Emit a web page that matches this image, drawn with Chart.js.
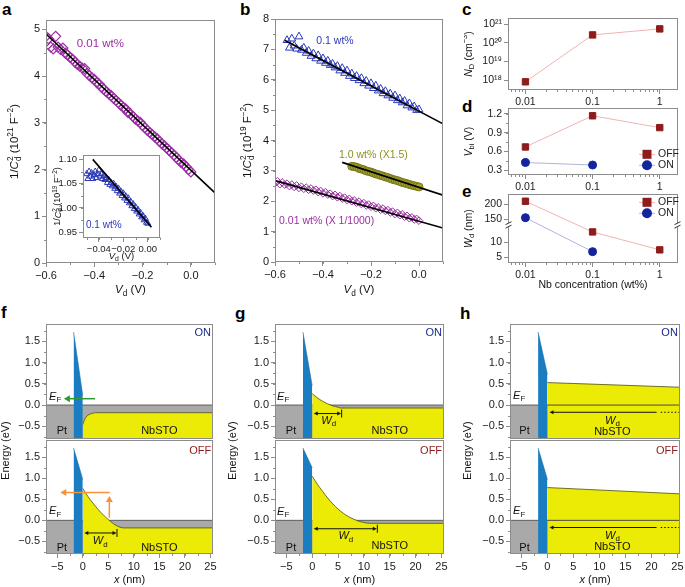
<!DOCTYPE html>
<html>
<head>
<meta charset="utf-8">
<title>C-V data and band diagrams</title>
<script src="https://cdn.jsdelivr.net/npm/chart.js@4.4.1/dist/chart.umd.min.js"></script>
<style>
  html, body { margin: 0; padding: 0; background: #fff; }
  #fig { position: relative; width: 685px; height: 587px; overflow: hidden; background: #fff;
         font-family: "Liberation Sans", Arial, Helvetica, sans-serif; }
  .box { position: absolute; }
  .box canvas { display: block; }
  .tag { position: absolute; font-weight: bold; font-size: 17px; line-height: 17px; color: #000; }
</style>
</head>
<body>
<div id="fig">
  <div class="tag" style="left:2px;top:1px">a</div>
  <div class="tag" style="left:240px;top:1px">b</div>
  <div class="tag" style="left:462px;top:1px">c</div>
  <div class="tag" style="left:462px;top:98px">d</div>
  <div class="tag" style="left:462px;top:183px">e</div>
  <div class="tag" style="left:1px;top:304px">f</div>
  <div class="tag" style="left:235px;top:305px">g</div>
  <div class="tag" style="left:460px;top:305px">h</div>
</div>
<script>
const FONT = '"Liberation Sans", Arial, Helvetica, sans-serif';
const AX = '#8c8c8c';
const PURPLE = '#9a2ea2', BLUE = '#2b38b6', OLIVE = '#8f8f1c';
const RED = '#8e1c1c', PINK = '#efb3b3', NAVY = '#1424a0', LBLUE = '#aeb4dc';
const YELLOW = '#ebeb05', GREY = '#a9a9a9', BARRIER = '#1b7dc1';
const ON_COL = '#1c2a8c', OFF_COL = '#8c1c1c';
Chart.defaults.font.family = FONT;
Chart.defaults.color = '#1a1a1a';

// ---------- a: 0.01 wt% ----------
const aVd = [-0.60,-0.59,-0.58,-0.57,-0.56,-0.55,-0.54,-0.53,-0.52,-0.51,-0.50,-0.49,-0.48,-0.47,-0.46,-0.45,-0.44,-0.43,-0.42,-0.41,
  -0.40,-0.39,-0.38,-0.37,-0.36,-0.35,-0.34,-0.33,-0.32,-0.31,-0.30,-0.29,-0.28,-0.27,-0.26,-0.25,-0.24,-0.23,-0.22,-0.21,
  -0.20,-0.19,-0.18,-0.17,-0.16,-0.15,-0.14,-0.13,-0.12,-0.11,-0.10,-0.09,-0.08,-0.07,-0.06,-0.05,-0.04,-0.03,-0.02,-0.01,0.00];
const aInvC2 = [4.85,4.80,4.62,4.58,4.85,4.62,4.57,4.60,4.49,4.45,4.40,4.36,4.30,4.25,4.21,4.17,4.16,4.06,4.01,3.96,
  3.93,3.86,3.83,3.76,3.72,3.66,3.62,3.58,3.52,3.48,3.43,3.38,3.33,3.30,3.22,3.19,3.14,3.08,3.04,3.01,
  2.94,2.89,2.84,2.79,2.75,2.70,2.66,2.60,2.55,2.51,2.46,2.41,2.36,2.31,2.26,2.20,2.15,2.12,2.06,2.00,1.95];
const aFitVd = [-0.60, 0.10];
const aFitY = [4.90, 1.50];
const aXTicks = [-0.6, -0.4, -0.2, 0.0];
const aYTicks = [0, 1, 2, 3, 4, 5];

// inset: 0.1 wt%
const insVd = [-0.050,-0.049,-0.048,-0.047,-0.046,-0.045,-0.044,-0.043,-0.042,-0.041,-0.040,-0.039,-0.038,-0.037,-0.036,-0.035,-0.034,
  -0.033,-0.032,-0.031,-0.030,-0.029,-0.028,-0.027,-0.026,-0.025,-0.024,-0.023,-0.022,-0.021,-0.020,-0.019,-0.018,-0.017,-0.016,
  -0.015,-0.014,-0.013,-0.012,-0.011,-0.010,-0.009,-0.008,-0.007,-0.006,-0.005,-0.004,-0.003,-0.002,-0.001,0.000];
const insInvC2 = [1.070,1.060,1.075,1.065,1.072,1.060,1.068,1.075,1.062,1.070,1.078,1.065,1.070,1.060,1.066,1.058,1.062,
  1.052,1.058,1.048,1.052,1.045,1.050,1.040,1.044,1.035,1.040,1.030,1.034,1.025,1.030,1.020,1.024,1.015,1.020,
  1.010,1.013,1.004,1.008,0.998,1.002,0.993,0.996,0.987,0.990,0.981,0.984,0.975,0.978,0.970,0.968];
const insFitVd = [-0.045, 0.003];
const insFitY = [1.100, 0.960];
const insXTicks = [-0.04, -0.02, 0.00];
const insYTicks = [0.95, 1.00, 1.05, 1.10];

// ---------- b ----------
const bVd01 = [-0.55,-0.54,-0.53,-0.52,-0.51,-0.50,-0.49,-0.48,-0.47,-0.46,-0.45,-0.44,-0.43,-0.42,-0.41,-0.40,-0.39,-0.38,-0.37,
  -0.36,-0.35,-0.34,-0.33,-0.32,-0.31,-0.30,-0.29,-0.28,-0.27,-0.26,-0.25,-0.24,-0.23,-0.22,-0.21,-0.20,-0.19,-0.18,
  -0.17,-0.16,-0.15,-0.14,-0.13,-0.12,-0.11,-0.10,-0.09,-0.08,-0.07,-0.06,-0.05,-0.04,-0.03,-0.02,-0.01,0.00];
const bY01 = [7.30,7.05,7.35,7.12,7.02,7.42,6.98,7.05,6.88,6.95,6.78,6.86,6.70,6.80,6.62,6.70,6.55,6.62,6.48,
  6.52,6.40,6.45,6.30,6.38,6.22,6.30,6.12,6.20,6.05,6.12,5.98,6.05,5.88,5.96,5.80,5.88,5.72,5.80,
  5.64,5.70,5.55,5.62,5.48,5.54,5.40,5.48,5.32,5.38,5.25,5.30,5.15,5.22,5.08,5.12,5.00,5.02];
const bFit01X = [-0.56, 0.10], bFit01Y = [7.30, 4.55];

const bVd10 = [-0.28,-0.27,-0.26,-0.25,-0.24,-0.23,-0.22,-0.21,-0.20,-0.19,-0.18,-0.17,-0.16,-0.15,-0.14,
  -0.13,-0.12,-0.11,-0.10,-0.09,-0.08,-0.07,-0.06,-0.05,-0.04,-0.03,-0.02,-0.01,0.00];
const bY10 = [3.15,3.14,3.12,3.08,3.06,3.04,3.00,2.98,2.96,2.93,2.90,2.88,2.85,2.83,2.80,
  2.78,2.75,2.72,2.70,2.68,2.65,2.62,2.60,2.58,2.55,2.53,2.51,2.49,2.47];
const bFit10X = [-0.32, 0.10], bFit10Y = [3.28, 2.20];

const bVd001 = [-0.60,-0.59,-0.58,-0.57,-0.56,-0.55,-0.54,-0.53,-0.52,-0.51,-0.50,-0.49,-0.48,-0.47,-0.46,-0.45,-0.44,-0.43,-0.42,-0.41,
  -0.40,-0.39,-0.38,-0.37,-0.36,-0.35,-0.34,-0.33,-0.32,-0.31,-0.30,-0.29,-0.28,-0.27,-0.26,-0.25,-0.24,-0.23,-0.22,-0.21,
  -0.20,-0.19,-0.18,-0.17,-0.16,-0.15,-0.14,-0.13,-0.12,-0.11,-0.10,-0.09,-0.08,-0.07,-0.06,-0.05,-0.04,-0.03,-0.02,-0.01,0.00];
const bY001 = [2.60,2.66,2.56,2.62,2.55,2.58,2.50,2.55,2.47,2.52,2.44,2.48,2.41,2.45,2.38,2.42,2.35,2.38,2.30,2.34,
  2.26,2.30,2.22,2.25,2.17,2.21,2.13,2.17,2.09,2.12,2.04,2.08,2.00,2.03,1.95,1.99,1.91,1.94,1.86,1.89,
  1.82,1.85,1.77,1.80,1.72,1.76,1.68,1.71,1.63,1.66,1.58,1.62,1.54,1.57,1.49,1.52,1.44,1.47,1.40,1.42,1.36];
const bFit001X = [-0.60, 0.10], bFit001Y = [2.68, 1.12];
const bYTicks = [0, 1, 2, 3, 4, 5, 6, 7, 8];

// ---------- c, d, e ----------
const nbConc = [0.01, 0.1, 1];
const ndOff = [8e17, 2.7e20, 5.7e20];
const vbiOff = [0.67, 1.17, 0.98];
const vbiOn = [0.42, 0.38];
const wdOff = [210, 13.4, 7.4];
const wdOn = [155, 6.8];
const ndTicks = [1e18, 1e19, 1e20, 1e21];
const vbiTicks = [0.3, 0.6, 0.9, 1.2];
const wdTicks = [5, 10, 150, 200];

// ---------- f, g, h band diagrams ----------
const barrierX = [-1.8, 0];
const fermiX = [-7.2, 25.5], fermiY = [0, 0];
const fOnBar = [1.72, 0.22], fOffBar = [1.72, 0.97];
const gOnBar = [1.72, 0.45], gOffBar = [1.72, 1.25];
const hOnBar = [1.72, 0.72], hOffBar = [1.72, 0.97];
const fOnCbX = [0, 0.3, 0.6, 1, 1.5, 2, 2.5, 3, 25.5];
const fOnCbY = [-0.46, -0.36, -0.29, -0.24, -0.21, -0.19, -0.18, -0.18, -0.18];
const fOffCbX = [0, 1, 2, 3, 4, 5, 6, 7, 8, 25.5];
const fOffCbY = [0.76, 0.57, 0.41, 0.26, 0.13, 0.02, -0.08, -0.15, -0.18, -0.18];
const gOnCbX = [0, 1, 2, 3, 4, 5, 5.5, 25.5];
const gOnCbY = [0.27, 0.17, 0.09, 0.03, -0.02, -0.05, -0.07, -0.07];
const gOffCbX = [0, 1, 2, 3, 4, 5, 6, 7, 8, 9, 10, 11, 25.5];
const gOffCbY = [1.05, 0.86, 0.69, 0.53, 0.39, 0.27, 0.17, 0.09, 0.03, -0.02, -0.05, -0.07, -0.07];
const hOnCbX = [0, 25.5], hOnCbY = [0.53, 0.42];
const hOffCbX = [0, 25.5], hOffCbY = [0.78, 0.63];
const hEfX = [0, 25.5], hEfY = [0, 0];
const nmTicks = [-5, 0, 5, 10, 15, 20, 25];
const eVTicks = [-0.5, 0.0, 0.5, 1.0, 1.5];

// ---------- helpers ----------
const zip = (xs, ys) => xs.map((x, i) => ({x: x, y: ys[i]}));
const fmt = d => v => { if (Math.abs(v) < 1e-9) v = 0; return v.toFixed(d).replace('-', '\u2212'); };
const SUP = '\u2070\u00b9\u00b2\u00b3\u2074\u2075\u2076\u2077\u2078\u2079';
const pow10 = v => '10' + String(Math.round(Math.log10(v))).split('').map(c => SUP[+c]).join('');
const linMinor = (min, max, step) => { const o = []; for (let v = Math.ceil(min / step) * step; v <= max + 1e-9; v += step) o.push(v); return o; };
const logMinor = (min, max) => { const o = []; for (let e = Math.floor(Math.log10(min)); e <= Math.ceil(Math.log10(max)); e++) for (let k = 2; k <= 9; k++) { const v = k * Math.pow(10, e); if (v > min && v < max) o.push(v); } return o; };

// break on the W_d axis: lower part linear, upper part compressed
const brLo = 15.67, brHi = 130, brK = 0.1;
const T = v => v <= brLo ? v : brLo + (v - brHi) * brK;
const invT = t => t <= brLo ? t : brHi + (t - brLo) / brK;

function parseRich(s) {
  const out = []; let i = 0, it = false, buf = '';
  const push = (t, m) => { if (t) out.push({t: t, it: it, m: m}); };
  while (i < s.length) {
    const ch = s[i];
    if (ch === '*') { push(buf, 0); buf = ''; it = !it; i++; continue; }
    if ((ch === '_' || ch === '^') && s[i + 1] === '{') {
      push(buf, 0); buf = '';
      const j = s.indexOf('}', i);
      push(s.slice(i + 2, j), ch === '_' ? 1 : 2);
      i = j + 1; continue;
    }
    buf += ch; i++;
  }
  push(buf, 0);
  return out;
}

function rich(ctx, s, x, y, o) {
  const size = o.size || 11, segs = parseRich(s);
  const fontOf = g => (g.it ? 'italic ' : '') + (g.m ? size * 0.72 : size) + 'px ' + FONT;
  ctx.save();
  ctx.translate(x, y);
  if (o.rot) ctx.rotate(o.rot);
  ctx.textBaseline = 'middle';
  ctx.textAlign = 'left';
  let cx = 0, prev = null;
  segs.forEach(g => {
    ctx.font = fontOf(g);
    const w = ctx.measureText(g.t).width;
    if (g.m === 2 && prev && prev.m === 1) { g.sx = prev.sx; cx = Math.max(cx, g.sx + w); }
    else { g.sx = cx; cx += w; }
    prev = g;
  });
  const off = o.align === 'left' ? 0 : o.align === 'right' ? -cx : -cx / 2;
  ctx.fillStyle = o.color || '#111';
  segs.forEach(g => {
    ctx.font = fontOf(g);
    const dy = g.m === 1 ? size * 0.3 : g.m === 2 ? -size * 0.36 : 0;
    ctx.fillText(g.t, off + g.sx, dy);
  });
  ctx.restore();
}

function arrow(ctx, x1, y1, x2, y2, o) {
  const hl = o.hl || 5, hw = o.hw || 2.5, ang = Math.atan2(y2 - y1, x2 - x1);
  const c = Math.cos(ang), s = Math.sin(ang);
  ctx.save();
  ctx.strokeStyle = ctx.fillStyle = o.color || '#111';
  ctx.lineWidth = o.w || 1;
  if (o.dash) ctx.setLineDash(o.dash);
  ctx.beginPath();
  ctx.moveTo(x1 + (o.start ? hl * 0.8 * c : 0), y1 + (o.start ? hl * 0.8 * s : 0));
  ctx.lineTo(x2 - (o.end ? hl * 0.8 * c : 0), y2 - (o.end ? hl * 0.8 * s : 0));
  ctx.stroke();
  ctx.setLineDash([]);
  const head = (x, y, t) => {
    ctx.beginPath();
    ctx.moveTo(x, y);
    ctx.lineTo(x - hl * Math.cos(t) + hw * Math.sin(t), y - hl * Math.sin(t) - hw * Math.cos(t));
    ctx.lineTo(x - hl * Math.cos(t) - hw * Math.sin(t), y - hl * Math.sin(t) + hw * Math.cos(t));
    ctx.closePath(); ctx.fill();
  };
  if (o.end) head(x2, y2, ang);
  if (o.start) head(x1, y1, ang + Math.PI);
  if (o.bar) { ctx.lineWidth = 1; ctx.beginPath(); ctx.moveTo(x2 + 0.5, y2 - 4); ctx.lineTo(x2 + 0.5, y2 + 4); ctx.stroke(); }
  ctx.restore();
}

// frame, minor ticks, titles, legends, notes
Chart.register({
  id: 'decor',
  beforeDatasetsDraw(chart) {
    const N = chart.canvas._n; if (!N || !N.bg) return;
    const a = chart.chartArea, ctx = chart.ctx;
    ctx.save(); ctx.fillStyle = N.bg; ctx.fillRect(a.left, a.top, a.right - a.left, a.bottom - a.top); ctx.restore();
  },
  afterDatasetsDraw(chart) {
    const N = chart.canvas._n; if (!N) return;
    const ctx = chart.ctx, xs = chart.scales.x, ys = chart.scales.y;
    const px = v => xs.getPixelForValue(v), py = v => ys.getPixelForValue(v);
    (N.arrows || []).forEach(a => arrow(ctx, px(a.x1), py(a.y1), px(a.x2), py(a.y2), a));
    (N.texts || []).forEach(t => rich(ctx, t.s, px(t.x), py(t.y), t));
  },
  afterDraw(chart) {
    const N = chart.canvas._n; if (!N) return;
    const ctx = chart.ctx, a = chart.chartArea, xs = chart.scales.x, ys = chart.scales.y;
    const L = Math.round(a.left) + 0.5, Tp = Math.round(a.top) + 0.5, R = Math.round(a.right) - 0.5, B = Math.round(a.bottom) - 0.5;
    ctx.save();
    ctx.strokeStyle = AX; ctx.lineWidth = 1;
    ctx.strokeRect(L, Tp, R - L, B - Tp);
    ctx.beginPath();
    (N.minorX || []).forEach(v => { const p = Math.round(xs.getPixelForValue(v)) + 0.5; ctx.moveTo(p, B); ctx.lineTo(p, B + 2.5); });
    (N.minorY || []).forEach(v => { const p = Math.round(ys.getPixelForValue(v)) + 0.5; ctx.moveTo(L, p); ctx.lineTo(L - 2.5, p); });
    ctx.stroke();
    if (N.brk != null) {
      const p = ys.getPixelForValue(N.brk);
      [L, R].forEach(x => {
        ctx.fillStyle = '#fff'; ctx.fillRect(x - 3, p - 2, 6, 4);
        ctx.strokeStyle = '#333'; ctx.beginPath();
        ctx.moveTo(x - 3, p - 0.5); ctx.lineTo(x + 3, p - 3.5);
        ctx.moveTo(x - 3, p + 3); ctx.lineTo(x + 3, p);
        ctx.stroke();
      });
    }
    (N.legend || []).forEach(r => {
      const x = a.right - r.dx, y = a.top + r.dy;
      ctx.strokeStyle = r.line; ctx.lineWidth = 1;
      ctx.beginPath(); ctx.moveTo(x - 8, y); ctx.lineTo(x + 8, y); ctx.stroke();
      ctx.fillStyle = r.color;
      if (r.style === 'rect') ctx.fillRect(x - 4.5, y - 4.5, 9, 9);
      else { ctx.beginPath(); ctx.arc(x, y, 5, 0, 2 * Math.PI); ctx.fill(); }
      rich(ctx, r.label, x + 11, y, {align: 'left', size: 10.5, color: '#222'});
    });
    if (N.xt) rich(ctx, N.xt.s, (a.left + a.right) / 2 + (N.xt.dx || 0), a.bottom + N.xt.dy, {size: N.xt.size || 11});
    if (N.yt) rich(ctx, N.yt.s, a.left - N.yt.dx, N.yt.cy != null ? a.top + N.yt.cy : (a.top + a.bottom) / 2,
                   {size: N.yt.size || 11, rot: -Math.PI / 2});
    ctx.restore();
  }
});

// axis with an explicit list of tick values
function sc(type, min, max, at, o) {
  o = o || {};
  return {
    type: type, min: min, max: max, bounds: 'data',
    grid: {display: o.tickMarks !== false, drawOnChartArea: false, drawTicks: true, tickLength: 4, color: AX},
    border: {display: false},
    ticks: {display: o.labels !== false, color: '#1a1a1a', padding: o.pad != null ? o.pad : 2,
            font: {size: o.size || 11, family: FONT}, autoSkip: false, maxRotation: 0, minRotation: 0,
            callback: o.fmt || (v => String(v))},
    afterBuildTicks: ax => { ax.ticks = at.map(v => ({value: v})); }
  };
}

function mk(plot, pad, cfg, notes) {
  const W = plot.w + pad.l + pad.r, H = plot.h + pad.t + pad.b;
  const div = document.createElement('div');
  div.className = 'box';
  div.style.left = (plot.x - pad.l) + 'px';
  div.style.top = (plot.y - pad.t) + 'px';
  div.style.width = W + 'px';
  div.style.height = H + 'px';
  const cv = document.createElement('canvas');
  cv.width = W; cv.height = H;
  cv.style.width = W + 'px'; cv.style.height = H + 'px';
  cv._n = notes;
  div.appendChild(cv);
  document.getElementById('fig').appendChild(div);
  const op = cfg.options;
  op.responsive = false;
  op.animation = false;
  op.devicePixelRatio = 1;
  op.layout = {padding: {left: 0, top: pad.t, right: pad.r, bottom: 0}};
  op.plugins = {legend: {display: false}, tooltip: {enabled: false}};
  op.scales.x.afterFit = s => { s.height = pad.b; };
  op.scales.y.afterFit = s => { s.width = pad.l; };
  return new Chart(cv, cfg);
}

const markers = (data, style, r, color, fill, bw) => ({
  data: data, showLine: false, pointStyle: style, pointRadius: r, pointBorderWidth: bw || 1,
  pointBorderColor: color, pointBackgroundColor: fill || 'rgba(0,0,0,0)', order: 2
});
const fitLine = data => ({data: data, showLine: true, pointRadius: 0, borderColor: '#000', borderWidth: 1.6, order: 1});

// ---------- panel a ----------
mk({x: 46, y: 20, w: 169, h: 243}, {l: 46, t: 10, r: 14, b: 40}, {
  type: 'scatter',
  data: {datasets: [fitLine(zip(aFitVd, aFitY)), markers(zip(aVd, aInvC2), 'rectRot', 5, PURPLE, null, 1.2)]},
  options: {scales: {x: sc('linear', -0.6, 0.1, aXTicks, {fmt: fmt(1)}), y: sc('linear', 0, 5.2, aYTicks, {fmt: fmt(0)})}}
}, {
  minorX: linMinor(-0.6, 0.1, 0.1), minorY: linMinor(0, 5.2, 0.5),
  texts: [{s: '0.01 wt%', x: -0.375, y: 4.70, color: PURPLE, size: 11.5}],
  xt: {s: '*V*_{d} (V)', dy: 27, size: 11.5}, yt: {s: '1/*C*_{d}^{2} (10^{21} F^{\u22122})', dx: 31, size: 11.5}
});

// inset of a
mk({x: 83, y: 155, w: 77, h: 83}, {l: 34, t: 8, r: 10, b: 26}, {
  type: 'scatter',
  data: {datasets: [fitLine(zip(insFitVd, insFitY)), markers(zip(insVd, insInvC2), 'triangle', 3.5, BLUE)]},
  options: {scales: {x: sc('linear', -0.053, 0.010, insXTicks, {fmt: fmt(2), size: 9.5}),
                     y: sc('linear', 0.938, 1.109, insYTicks, {fmt: fmt(2), size: 9.5})}}
}, {
  bg: '#fff', minorX: linMinor(-0.053, 0.010, 0.01), minorY: linMinor(0.938, 1.109, 0.025),
  texts: [{s: '0.1 wt%', x: -0.036, y: 0.965, color: BLUE, size: 10}],
  xt: {s: '*V*_{d} (V)', dy: 18, size: 9.5}, yt: {s: '1/*C*_{d}^{2} (10^{19} F^{\u22122})', dx: 25, size: 9}
});

// ---------- panel b ----------
mk({x: 275, y: 19, w: 168, h: 243}, {l: 40, t: 10, r: 14, b: 40}, {
  type: 'scatter',
  data: {datasets: [
    fitLine(zip(bFit01X, bFit01Y)), fitLine(zip(bFit10X, bFit10Y)), fitLine(zip(bFit001X, bFit001Y)),
    markers(zip(bVd01, bY01), 'triangle', 4.5, BLUE),
    markers(zip(bVd10, bY10), 'circle', 4, '#77771a', '#a3a32a'),
    markers(zip(bVd001, bY001), 'rectRot', 3.8, PURPLE)
  ]},
  options: {scales: {x: sc('linear', -0.6, 0.1, aXTicks, {fmt: fmt(1)}), y: sc('linear', 0, 8, bYTicks, {fmt: fmt(0)})}}
}, {
  minorX: linMinor(-0.6, 0.1, 0.1), minorY: linMinor(0, 8, 0.5),
  texts: [
    {s: '0.1 wt%', x: -0.35, y: 7.28, color: BLUE, size: 10.5},
    {s: '1.0 wt% (X1.5)', x: -0.19, y: 3.53, color: OLIVE, size: 10.5},
    {s: '0.01 wt% (X 1/1000)', x: -0.385, y: 1.34, color: PURPLE, size: 10.5}
  ],
  xt: {s: '*V*_{d} (V)', dy: 28, size: 11.5}, yt: {s: '1/*C*_{d}^{2} (10^{19} F^{\u22122})', dx: 27, size: 11.5}
});

// ---------- panels c, d, e ----------
const concAxis = () => sc('logarithmic', 0.0055, 1.87, nbConc, {size: 10.5});
const offSeries = ys => ({data: zip(nbConc, ys), borderColor: PINK, borderWidth: 1, pointStyle: 'rect', pointRadius: 4.5,
                          pointBackgroundColor: RED, pointBorderColor: RED, order: 2});
const onSeries = ys => ({data: zip(nbConc.slice(0, ys.length), ys), borderColor: LBLUE, borderWidth: 1, pointStyle: 'circle',
                         pointRadius: 4, pointBackgroundColor: NAVY, pointBorderColor: NAVY, order: 1});

mk({x: 508, y: 18, w: 170, h: 72}, {l: 44, t: 10, r: 8, b: 18}, {
  type: 'line',
  data: {datasets: [offSeries(ndOff)]},
  options: {scales: {x: concAxis(), y: sc('logarithmic', 2.9e17, 2.2e21, ndTicks, {fmt: pow10, size: 10.5})}}
}, {minorX: logMinor(0.0055, 1.87), yt: {s: '*N*_{D} (cm^{\u22123})', dx: 39, size: 10.5}});

mk({x: 508, y: 108, w: 170, h: 67}, {l: 44, t: 8, r: 8, b: 18}, {
  type: 'line',
  data: {datasets: [onSeries(vbiOn), offSeries(vbiOff)]},
  options: {scales: {x: concAxis(), y: sc('linear', 0.22, 1.29, vbiTicks, {fmt: fmt(1), size: 10.5})}}
}, {
  minorX: logMinor(0.0055, 1.87), minorY: linMinor(0.22, 1.29, 0.15),
  legend: [{label: 'OFF', style: 'rect', color: RED, line: PINK, dx: 31, dy: 46},
           {label: 'ON', style: 'circle', color: NAVY, line: LBLUE, dx: 31, dy: 57}],
  yt: {s: '*V*_{bi} (V)', dx: 39, size: 10.5}
});

mk({x: 508, y: 194, w: 170, h: 69}, {l: 44, t: 8, r: 8, b: 32}, {
  type: 'line',
  data: {datasets: [onSeries(wdOn.map(T)), offSeries(wdOff.map(T))]},
  options: {scales: {x: concAxis(), y: sc('linear', 3, 26, wdTicks.map(T), {fmt: v => String(Math.round(invT(v))), size: 10.5})}}
}, {
  minorX: logMinor(0.0055, 1.87), brk: brLo,
  legend: [{label: 'OFF', style: 'rect', color: RED, line: PINK, dx: 31, dy: 8},
           {label: 'ON', style: 'circle', color: NAVY, line: LBLUE, dx: 31, dy: 19}],
  xt: {s: 'Nb concentration (wt%)', dy: 22, size: 10.5}, yt: {s: '*W*_{d} (nm)', dx: 39, size: 10.5}
});

// ---------- panels f, g, h ----------
function band(plot, on, cbX, cbY, barY, notes, efLine) {
  const ds = [
    {data: zip(barrierX, barY), borderColor: '#176aa5', backgroundColor: BARRIER, borderWidth: 0.6, fill: 'start', pointRadius: 0, order: 1},
    {data: zip(cbX, cbY), borderColor: '#4d4d18', backgroundColor: YELLOW, borderWidth: 0.8, fill: 'start', pointRadius: 0,
     cubicInterpolationMode: 'monotone', order: 3},
    {data: zip(fermiX, fermiY), borderColor: '#5e5e5e', backgroundColor: GREY, borderWidth: 1, fill: 'start', pointRadius: 0, order: 4}
  ];
  if (efLine) ds.push({data: zip(hEfX, hEfY), borderColor: '#4a4a4a', borderWidth: 1, pointRadius: 0, fill: false, order: 2});
  notes.minorY = linMinor(-0.8, 1.92, 0.25);
  if (!on) notes.minorX = linMinor(-7.2, 25.5, 2.5);
  const pad = on ? {l: 52, t: 8, r: 8, b: 60} : {l: 52, t: 8, r: 12, b: 36};
  return mk(plot, pad, {
    type: 'line',
    data: {datasets: ds},
    options: {scales: {
      x: sc('linear', -7.2, 25.5, nmTicks, {fmt: fmt(0), labels: !on, tickMarks: !on}),
      y: sc('linear', -0.8, 1.92, eVTicks, {fmt: fmt(1)})
    }}
  }, notes);
}
const EF = '*E*_{F}', WD = '*W*_{d}';
const tOn = {s: 'ON', x: 23.5, y: 1.70, color: ON_COL, align: 'center'};
const tOff = {s: 'OFF', x: 23.0, y: 1.65, color: OFF_COL, align: 'center'};
const wdArrow = (x2, y) => ({x1: 0.3, y1: y, x2: x2, y2: y, start: true, end: true, bar: true, hl: 4, hw: 2});

// f
band({x: 46, y: 323, w: 167, h: 116}, true, fOnCbX, fOnCbY, fOnBar, {
  texts: [tOn, {s: EF, x: -6.6, y: 0.19, align: 'left'}, {s: 'Pt', x: -4.1, y: -0.62}, {s: 'NbSTO', x: 15, y: -0.62}],
  arrows: [{x1: 2.4, y1: 0.15, x2: -3.7, y2: 0.15, color: '#2f9a2f', w: 1.5, end: true, hl: 6, hw: 3.5}],
  yt: {s: 'Energy (eV)', dx: 40, cy: 127}
});
band({x: 46, y: 439, w: 167, h: 115}, false, fOffCbX, fOffCbY, fOffBar, {
  texts: [tOff, {s: EF, x: -6.6, y: 0.22, align: 'left'}, {s: 'Pt', x: -4.1, y: -0.65}, {s: 'NbSTO', x: 15, y: -0.65},
          {s: WD, x: 3.4, y: -0.5}],
  arrows: [{x1: 5.3, y1: 0.66, x2: -4.4, y2: 0.66, color: '#f7923a', w: 1.5, end: true, hl: 6, hw: 3.5},
           {x1: 5.2, y1: 0.06, x2: 5.2, y2: 0.58, color: '#f7923a', w: 1.5, end: true, hl: 6, hw: 3.5},
           wdArrow(6.6, -0.3)],
  xt: {s: '*x* (nm)', dy: 26}
});

// g
band({x: 275, y: 323, w: 169, h: 116}, true, gOnCbX, gOnCbY, gOnBar, {
  texts: [tOn, {s: EF, x: -6.8, y: 0.2, align: 'left'}, {s: 'Pt', x: -4.1, y: -0.62}, {s: 'NbSTO', x: 15, y: -0.62},
          {s: WD, x: 3.2, y: -0.37}],
  arrows: [wdArrow(5.6, -0.2)],
  yt: {s: 'Energy (eV)', dx: 42, cy: 127}
});
band({x: 275, y: 439, w: 169, h: 115}, false, gOffCbX, gOffCbY, gOffBar, {
  texts: [tOff, {s: EF, x: -6.8, y: 0.2, align: 'left'}, {s: 'Pt', x: -4.1, y: -0.65}, {s: 'NbSTO', x: 15, y: -0.62},
          {s: WD, x: 6.5, y: -0.38}],
  arrows: [wdArrow(12.5, -0.2)],
  xt: {s: '*x* (nm)', dy: 26}
});

// h
band({x: 510, y: 323, w: 170, h: 116}, true, hOnCbX, hOnCbY, hOnBar, {
  texts: [tOn, {s: EF, x: -6.6, y: 0.22, align: 'left'}, {s: 'Pt', x: -4.4, y: -0.62},
          {s: WD, x: 12.5, y: -0.37}, {s: 'NbSTO', x: 12.5, y: -0.64}],
  arrows: [{x1: 21, y1: -0.17, x2: 0.4, y2: -0.17, end: true, hl: 4, hw: 2},
           {x1: 21.8, y1: -0.17, x2: 25.5, y2: -0.17, dash: [1.5, 2]}],
  yt: {s: 'Energy (eV)', dx: 42, cy: 127}
}, true);
band({x: 510, y: 439, w: 170, h: 115}, false, hOffCbX, hOffCbY, hOffBar, {
  texts: [tOff, {s: EF, x: -6.6, y: 0.22, align: 'left'}, {s: 'Pt', x: -4.4, y: -0.65},
          {s: WD, x: 12.5, y: -0.37}, {s: 'NbSTO', x: 12.5, y: -0.64}],
  arrows: [{x1: 21, y1: -0.17, x2: 0.4, y2: -0.17, end: true, hl: 4, hw: 2},
           {x1: 21.8, y1: -0.17, x2: 25.5, y2: -0.17, dash: [1.5, 2]}],
  xt: {s: '*x* (nm)', dy: 26}
}, true);
</script>
</body>
</html>
